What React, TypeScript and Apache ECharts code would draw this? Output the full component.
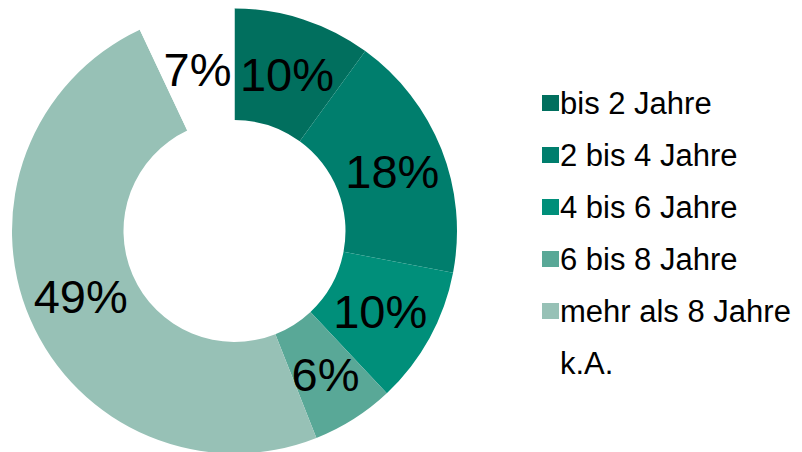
import React, { useEffect, useRef } from "react";
import * as echarts from "echarts";

const categories = ["bis 2 Jahre", "2 bis 4 Jahre", "4 bis 6 Jahre", "6 bis 8 Jahre", "mehr als 8 Jahre", "k.A."];
const values = [10, 18, 10, 6, 49, 7];
const colors = ["#016F5E", "#007E6D", "#008F7A", "#59A897", "#97C1B6", "#FFFFFF"];
const labelOffsets = [[0, 5], [0, 3], [-3, -1], [0, 0], [2, -2], [0, 4]];

export default function App() {
  const ref = useRef<HTMLDivElement>(null);
  useEffect(() => {
    if (!ref.current) return;
    const chart = echarts.init(ref.current, undefined, { renderer: "svg" });
    const font = "'Liberation Sans', Arial, sans-serif";
    chart.setOption({
      animation: false,
      backgroundColor: "#ffffff",
      legend: {
        orient: "vertical",
        left: 537,
        top: 80,
        itemWidth: 17,
        itemHeight: 16,
        itemGap: 16,
        icon: "rect",
        data: categories,
        textStyle: { fontFamily: font, fontSize: 31, color: "#000", lineHeight: 36, padding: [0, 0, 0, -4] },
      },
      series: [
        {
          type: "pie",
          center: [234.5, 231],
          radius: [111, 222.5],
          startAngle: 90,
          clockwise: true,
          avoidLabelOverlap: false,
          label: {
            show: true,
            position: "inside",
            formatter: (p: any) => p.value + "%",
            fontFamily: font,
            fontSize: 47,
            color: "#000",
          },
          labelLine: { show: false },
          emphasis: { disabled: true },
          itemStyle: { borderWidth: 0 },
          data: categories.map((c, i) => ({
            name: c,
            value: values[i],
            itemStyle: { color: colors[i] },
            label: { offset: labelOffsets[i] },
          })),
        },
      ],
    });
    return () => chart.dispose();
  }, []);
  return <div ref={ref} style={{ position: "fixed", left: 0, top: 0, width: 802, height: 452 }} />;
}
